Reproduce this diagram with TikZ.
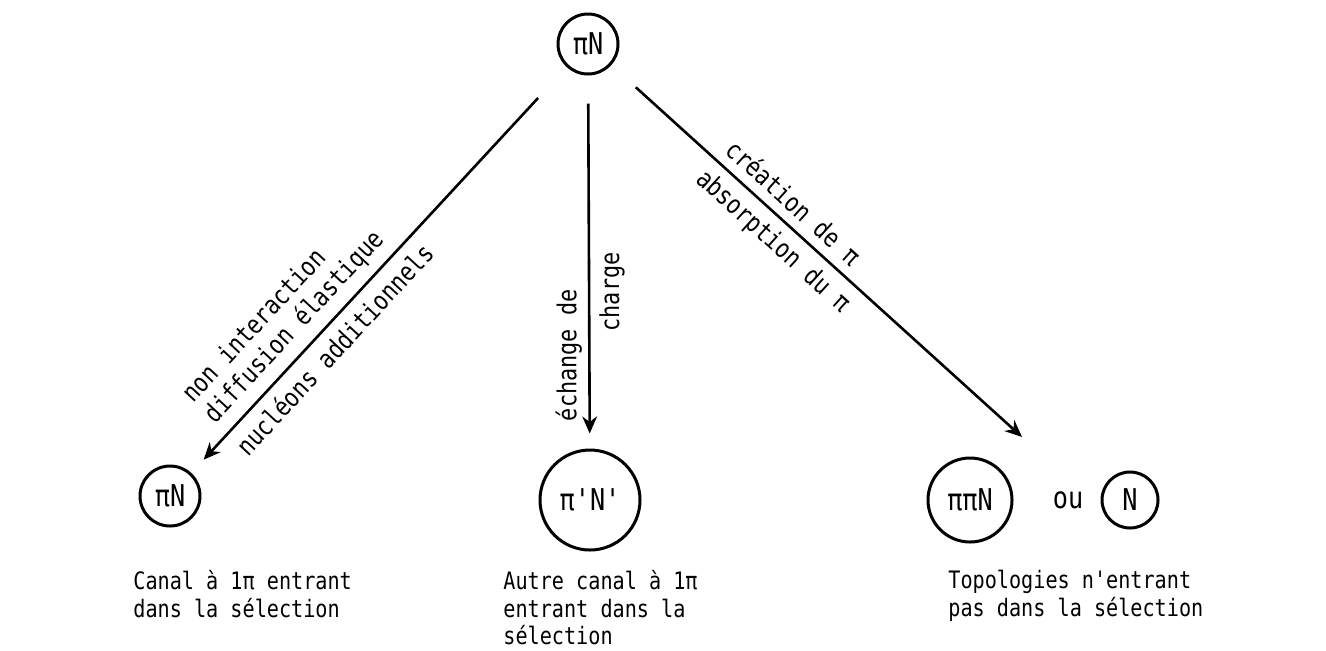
\documentclass[tikz,border=0pt]{standalone}
\usepackage{fontspec}
\setmonofont{DejaVu Sans Mono}[FakeStretch=0.84]
\usetikzlibrary{arrows.meta,positioning}
\newcommand{\typefont}{\fontsize{12}{13.7}\selectfont\ttfamily}
\newcommand{\labelfont}{\fontsize{13}{15}\selectfont\ttfamily}
\newcommand{\statefont}{\fontsize{15}{17}\selectfont\ttfamily}
\tikzset{
  particle/.style={draw, circle, line width=1.5pt, inner sep=0pt, font=\statefont},
  caption/.style={anchor=north west, align=left, inner sep=0pt, font=\typefont},
  channel/.style={-{Stealth[length=3mm, width=2.6mm]}, line width=1.3pt},
  chanlabel/.style={font=\labelfont, inner sep=4.5pt}
}
\begin{document}
\begin{tikzpicture}[x=0.5pt, y=-0.5pt]
  \useasboundingbox (0,0) rectangle (1326,650);
  % initial state and the three outcomes
  \node[particle, minimum size=30pt] (init) at (588,44) {πN};
  \node[particle, minimum size=30pt] (elast) at (170,496) {πN};
  \node[particle, minimum size=50pt] (cex) at (590,500) {π'N'};
  \node[particle, minimum size=42pt] (pipin) at (970,500) {ππN};
  \node[font=\statefont] (ou) at (1068,500) {ou};
  \node[particle, minimum size=28pt] (nuc) at (1130,500) {N};
  \coordinate (rtip) at (1022,437);
  % captions
  \node[caption] (capl) at (133,570) {Canal à 1π entrant\\dans la sélection};
  \node[caption] (capm) at (503,570) {Autre canal à 1π\\entrant dans la\\sélection};
  \node[caption] (capr) at (948,570) {Topologies n'entrant\\pas dans la sélection};
  % channels
  \draw[channel, shorten <=21pt, shorten >=9pt] (init) --
    node[chanlabel, sloped, above, pos=.68, align=left] {non interaction\\diffusion élastique}
    node[chanlabel, sloped, below, pos=.66] {nucléons additionnels} (elast);
  \draw[channel, shorten <=14pt, shorten >=7.5pt] (init) --
    node[chanlabel, rotate=90, anchor=south, pos=.75, inner sep=3pt] {échange de}
    node[chanlabel, rotate=90, anchor=north, pos=.58] {charge} (cex);
  \draw[channel, shorten <=16.5pt] (init) --
    node[chanlabel, sloped, above, pos=.41] {création de π}
    node[chanlabel, sloped, below, pos=.43] {absorption du π} (rtip);
\end{tikzpicture}
\end{document}
